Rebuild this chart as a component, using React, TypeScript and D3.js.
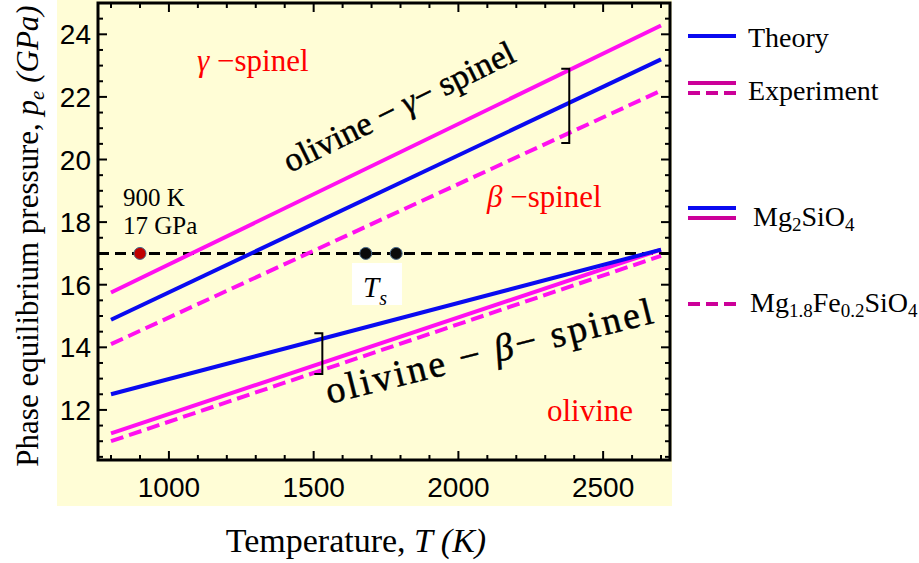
import React from 'react';
import * as d3 from 'd3';

// phase boundaries, straight lines between the two end temperatures
const boundaryT = [800, 2700];
const gammaExpMg2 = [15.75, 24.28];
const gammaTheoryMg2 = [14.88, 23.2];
const gammaExpMgFe = [14.1, 22.2];
const betaTheoryMg2 = [12.5, 17.12];
const betaExpMg2 = [11.25, 17.12];
const betaExpMgFe = [11.0, 16.92];

const xTicks = [1000, 1500, 2000, 2500];
const yTicks = [12, 14, 16, 18, 20, 22, 24];

// points on the 17 GPa isobar
const refPoint = { T: 900, p: 17 };
const tsPoints = [1680, 1785];
const isobarP = 17;

// brackets marking theory/experiment gap
const brackets = [
  { T: 2383, lo: 20.53, hi: 22.9 },
  { T: 1530, lo: 13.15, hi: 14.45 },
];

const W = 919;
const H = 563;

const BLUE = '#0a0af0';
const MAGENTA = '#ff10f0';
const LEG_MAG = '#cc0099';
const SERIF = '"Liberation Serif", "Times New Roman", serif';
const SANS = '"Liberation Sans", Arial, sans-serif';

const App = () => {
  const x = d3.scaleLinear().domain([755, 2731]).range([98, 670]);
  const y = d3.scaleLinear().domain([10.4, 25]).range([460, 3]);

  const line = d3
    .line<[number, number]>()
    .x(d => x(d[0]))
    .y(d => y(d[1]));

  const pts = (vals: number[]) => boundaryT.map((t, i) => [t, vals[i]] as [number, number]);

  const series = [
    { v: betaExpMgFe, c: MAGENTA, dash: '13,6' },
    { v: betaExpMg2, c: MAGENTA, dash: null },
    { v: betaTheoryMg2, c: BLUE, dash: null },
    { v: gammaExpMgFe, c: MAGENTA, dash: '13,6' },
    { v: gammaExpMg2, c: MAGENTA, dash: null },
    { v: gammaTheoryMg2, c: BLUE, dash: null },
  ];

  const [x0, x1] = x.range();
  const [y0, y1] = y.range();
  const xMinor = d3.range(800, 2701, 100);
  const yMinor = d3.range(10.5, 25, 0.5);

  return (
    <svg width={W} height={H} style={{ position: 'absolute', left: 0, top: 0 }}>
      <rect x={0} y={0} width={W} height={H} fill="#fff" />
      <rect x={57} y={0} width={615} height={506} fill="#fffdd6" />

      {/* frame ticks */}
      {xMinor.map(t => {
        const major = t % 500 === 0;
        const len = major ? 9 : 5;
        return (
          <g key={'xt' + t} stroke="#000" strokeWidth={2}>
            <line x1={x(t)} x2={x(t)} y1={y0} y2={y0 - len} />
            <line x1={x(t)} x2={x(t)} y1={y1} y2={y1 + len} />
          </g>
        );
      })}
      {yMinor.map(p => {
        const major = p % 2 === 0;
        const len = major ? 9 : 5;
        return (
          <g key={'yt' + p} stroke="#000" strokeWidth={2}>
            <line x1={x0} x2={x0 + len} y1={y(p)} y2={y(p)} />
            <line x1={x1} x2={x1 - len} y1={y(p)} y2={y(p)} />
          </g>
        );
      })}

      {/* isobar */}
      <line
        x1={x0}
        x2={x1}
        y1={y(isobarP)}
        y2={y(isobarP)}
        stroke="#000"
        strokeWidth={3}
        strokeDasharray="11,6"
      />

      {series.map((s, i) => (
        <path
          key={i}
          d={line(pts(s.v)) || ''}
          fill="none"
          stroke={s.c}
          strokeWidth={4}
          strokeDasharray={s.dash || undefined}
        />
      ))}

      {brackets.map((b, i) => (
        <path
          key={'br' + i}
          d={`M${x(b.T) - 8},${y(b.hi)} H${x(b.T)} V${y(b.lo)} H${x(b.T) - 8}`}
          fill="none"
          stroke="#000"
          strokeWidth={2}
        />
      ))}

      <circle cx={x(refPoint.T)} cy={y(refPoint.p)} r={6} fill="#c00000" stroke="#4a6a8a" strokeWidth={1} />
      {tsPoints.map(t => (
        <circle key={t} cx={x(t)} cy={y(isobarP)} r={6} fill="#0a0a0a" stroke="#4a6a8a" strokeWidth={1} />
      ))}

      <rect x={352} y={263} width={50} height={42} fill="#fff" />
      <text x={363} y={297} fontFamily={SERIF} fontSize={29} fontStyle="italic">
        T
        <tspan fontSize={20} dy={8}>s</tspan>
      </text>

      <text x={123} y={206} fontFamily={SERIF} fontSize={25}>900 K</text>
      <text x={123} y={234} fontFamily={SERIF} fontSize={25}>17 GPa</text>

      {/* region labels */}
      <g fontFamily={SERIF} fontSize={31} fill="#ff0000">
        <text x={197} y={71}>
          <tspan fontStyle="italic">γ</tspan> −spinel
        </text>
        <text x={487} y={207}>
          <tspan fontStyle="italic">β</tspan> −spinel
        </text>
        <text x={547} y={421}>olivine</text>
      </g>

      <g fontFamily={SERIF} fill="#000" stroke="#000" strokeWidth={0.5}>
        <text
          transform="translate(290,173) rotate(-26.3)"
          fontSize={34}
          textLength={254}
          lengthAdjust="spacing"
        >
          olivine − <tspan fontStyle="italic">γ</tspan>− spinel
        </text>
        <text
          transform="translate(329,404) rotate(-14)"
          fontSize={38}
          textLength={336}
          lengthAdjust="spacing"
        >
          olivine − <tspan fontStyle="italic">β</tspan>− spinel
        </text>
      </g>

      {/* frame */}
      <rect x={x0} y={y1} width={x1 - x0} height={y0 - y1} fill="none" stroke="#000" strokeWidth={3} />

      {/* tick labels */}
      <g fontFamily={SANS} fontSize={28} fill="#000">
        {xTicks.map(t => (
          <text key={t} x={x(t)} y={497} textAnchor="middle">
            {t}
          </text>
        ))}
        {yTicks.map(p => (
          <text key={p} x={91} y={y(p) + 10} textAnchor="end">
            {p}
          </text>
        ))}
      </g>

      {/* axis titles */}
      <text x={356} y={552} textAnchor="middle" fontFamily={SERIF} fontSize={34}>
        Temperature, <tspan fontStyle="italic">T (K)</tspan>
      </text>
      <text
        transform="translate(38,236) rotate(-90)"
        textAnchor="middle"
        fontFamily={SERIF}
        fontSize={31}
      >
        Phase equilibrium pressure,{' '}
        <tspan fontStyle="italic">p</tspan>
        <tspan fontStyle="italic" fontSize={21} dy={6}>e</tspan>
        <tspan fontStyle="italic" dy={-6}> (GPa)</tspan>
      </text>

      {/* legend */}
      <g fontFamily={SERIF} fontSize={28} fill="#000">
        <line x1={688} x2={736} y1={36} y2={36} stroke={BLUE} strokeWidth={4} />
        <text x={748} y={47}>Theory</text>

        <line x1={688} x2={736} y1={83} y2={83} stroke={LEG_MAG} strokeWidth={4} />
        <line x1={688} x2={736} y1={93} y2={93} stroke={LEG_MAG} strokeWidth={4} strokeDasharray="12,6" />
        <text x={748} y={100}>Experiment</text>

        <line x1={688} x2={736} y1={208} y2={208} stroke={BLUE} strokeWidth={4} />
        <line x1={688} x2={736} y1={218} y2={218} stroke={LEG_MAG} strokeWidth={4} />
        <text x={753} y={226}>
          Mg<tspan fontSize={19} dy={5}>2</tspan>
          <tspan dy={-5}>SiO</tspan>
          <tspan fontSize={19} dy={5}>4</tspan>
        </text>

        <line x1={688} x2={736} y1={304} y2={304} stroke={LEG_MAG} strokeWidth={4} strokeDasharray="12,6" />
        <text x={750} y={312}>
          Mg<tspan fontSize={19} dy={5}>1.8</tspan>
          <tspan dy={-5}>Fe</tspan>
          <tspan fontSize={19} dy={5}>0.2</tspan>
          <tspan dy={-5}>SiO</tspan>
          <tspan fontSize={19} dy={5}>4</tspan>
        </text>
      </g>
    </svg>
  );
};

export default App;
